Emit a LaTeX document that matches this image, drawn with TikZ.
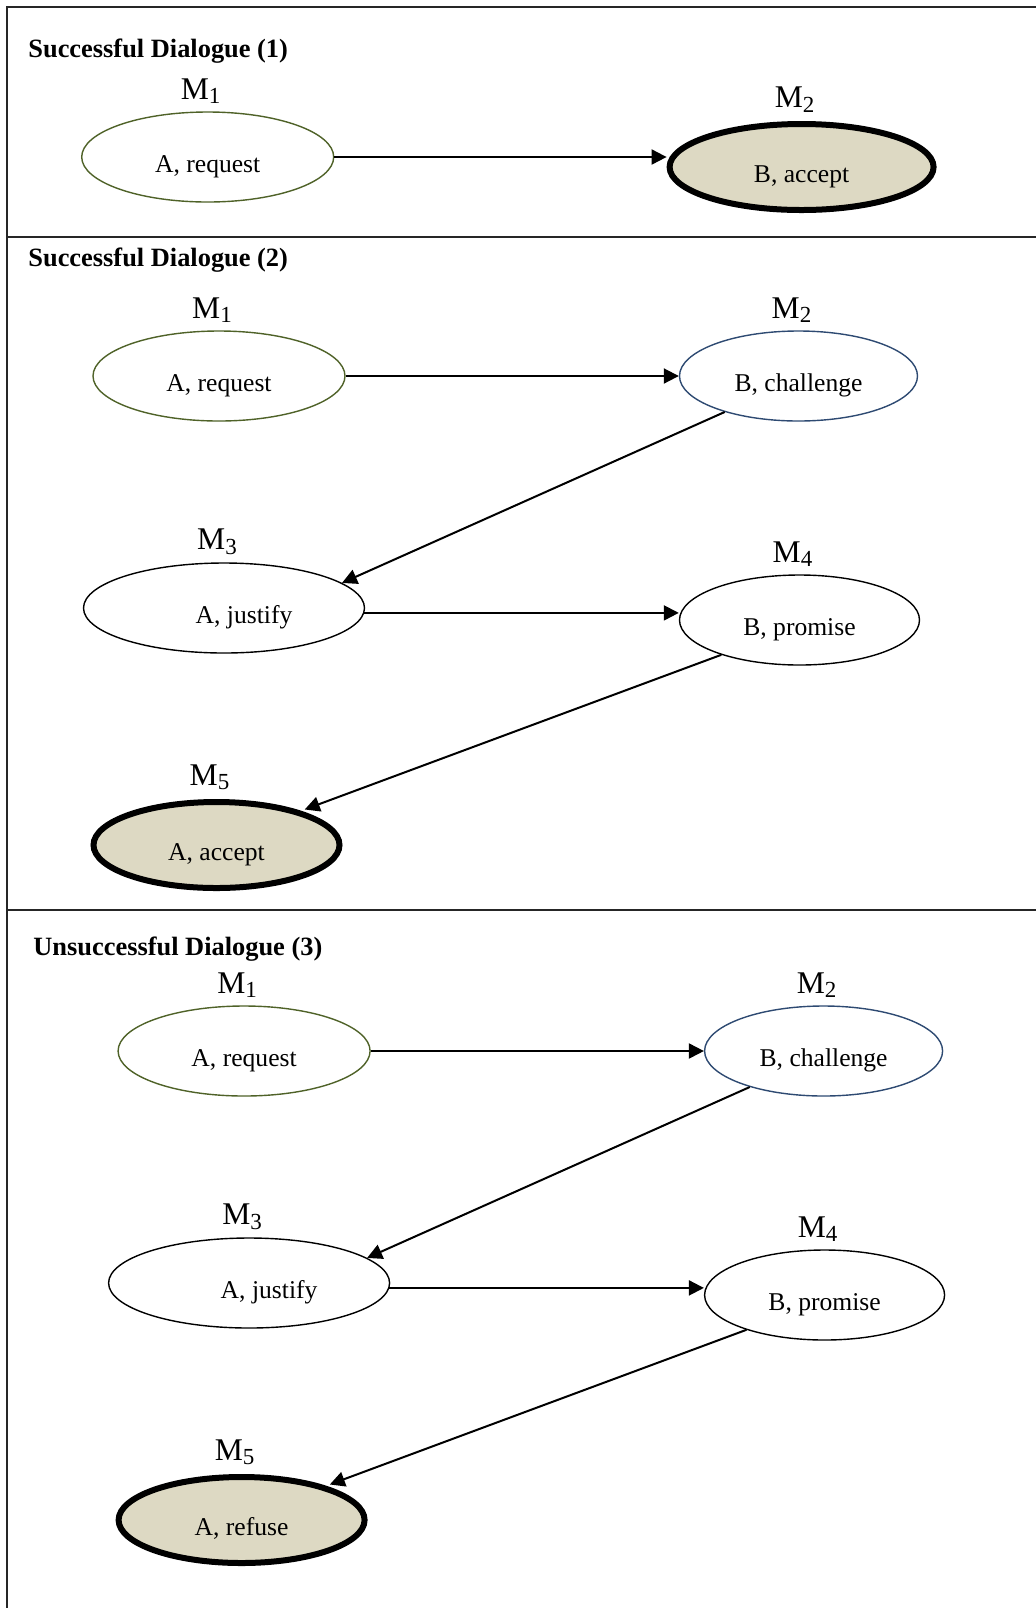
\documentclass[tikz,border=0pt]{standalone}
\usepackage{fontspec}
\setmainfont{Liberation Serif}
\usepackage{xcolor}
\usetikzlibrary{shapes.geometric,arrows.meta,positioning,calc}
\definecolor{reqgreen}{HTML}{4F6228}
\definecolor{chalblue}{HTML}{2E4A72}
\definecolor{endtan}{HTML}{DDD9C3}
\newcommand{\mlab}[1]{M\raisebox{-2.3pt}{\fontsize{11.5pt}{11.5pt}\selectfont #1}}
\tikzset{
  dlgmove/.style={
    ellipse, draw=black, line width=0.7pt, fill=white,
    minimum height=45pt, text height=15.5pt, text depth=0pt,
    font=\fontsize{12.8pt}{15pt}\selectfont
  },
  dlgreq/.style={dlgmove, draw=reqgreen},
  dlgchal/.style={dlgmove, draw=chalblue},
  dlgend/.style={dlgmove, line width=3pt, fill=endtan, minimum height=43pt},
  dlglabel/.style={font=\fontsize{15.8pt}{18pt}\selectfont, inner sep=0pt, xshift=-3.5pt, yshift=3.6pt},
  dlgendlabel/.style={dlglabel, yshift=0.6pt},
  dlgtitle/.style={anchor=west, inner sep=0pt, font=\bfseries\fontsize{13.2pt}{15pt}\selectfont},
  dlgarrow/.style={-{Triangle[length=7.5pt,width=7.5pt]}, line width=1pt, draw=black},
  frameline/.style={line width=1pt, draw=black!85},
}
\begin{document}
\begin{tikzpicture}[x=0.5pt, y=-0.5pt]
  \useasboundingbox (0,0) rectangle (1036,1608);
  % frame
  \draw[frameline] (1036,7) -- (7,7) -- (7,1608);
  \draw[frameline] (7,237) -- (1036,237);
  \draw[frameline] (7,910) -- (1036,910);

  % dialogue 1
  \node (t1) [dlgtitle] at (28,51) {Successful Dialogue (1)};
  \node (p1m1) [dlgreq, minimum width=126pt, label={[dlglabel]above:\mlab{1}}] at (207.7,157) {A, request};
  \node (p1m2) [dlgend, minimum width=132pt, label={[dlgendlabel]above:\mlab{2}}] at (801.6,167) {B, accept};
  \draw[dlgarrow] (p1m1.east) -- (p1m1.east -| p1m2.west);

  % dialogue 2
  \node (t2) [dlgtitle] at (28,260.5) {Successful Dialogue (2)};
  \node (p2m1) [dlgreq, minimum width=126pt, label={[dlglabel]above:\mlab{1}}] at (219,376) {A, request};
  \node (p2m2) [dlgchal, minimum width=119pt, label={[dlglabel]above:\mlab{2}}] at (798.5,376) {B, challenge};
  \node (p2m3) [dlgmove, minimum width=140.5pt, label={[dlglabel]above:\mlab{3}}] at (224,608) {\hspace*{20pt}A, justify};
  \node (p2m4) [dlgmove, minimum width=120pt, label={[dlglabel]above:\mlab{4}}] at (799.5,620) {B, promise};
  \node (p2m5) [dlgend, minimum width=123pt, label={[dlgendlabel]above:\mlab{5}}] at (216.5,845) {A, accept};
  \draw[dlgarrow] (p2m1.east) -- (p2m2.west);
  \draw[dlgarrow] (p2m2.206) -- (p2m3.12);
  \draw[dlgarrow] (p2m3.-2) -- (p2m3.-2 -| p2m4.west);
  \draw[dlgarrow, shorten >=2pt] (p2m4.204) -- (p2m5.22);

  % dialogue 3
  \node (t3) [dlgtitle] at (33,949) {Unsuccessful Dialogue (3)};
  \node (p3m1) [dlgreq, minimum width=126pt, label={[dlglabel]above:\mlab{1}}] at (244.1,1051) {A, request};
  \node (p3m2) [dlgchal, minimum width=119pt, label={[dlglabel]above:\mlab{2}}] at (823.6,1051) {B, challenge};
  \node (p3m3) [dlgmove, minimum width=140.5pt, label={[dlglabel]above:\mlab{3}}] at (249.1,1283) {\hspace*{20pt}A, justify};
  \node (p3m4) [dlgmove, minimum width=120pt, label={[dlglabel]above:\mlab{4}}] at (824.6,1295) {B, promise};
  \node (p3m5) [dlgend, minimum width=123pt, label={[dlgendlabel]above:\mlab{5}}] at (241.6,1520) {A, refuse};
  \draw[dlgarrow] (p3m1.east) -- (p3m2.west);
  \draw[dlgarrow] (p3m2.206) -- (p3m3.12);
  \draw[dlgarrow] (p3m3.-2) -- (p3m3.-2 -| p3m4.west);
  \draw[dlgarrow, shorten >=2pt] (p3m4.204) -- (p3m5.22);
\end{tikzpicture}
\end{document}
